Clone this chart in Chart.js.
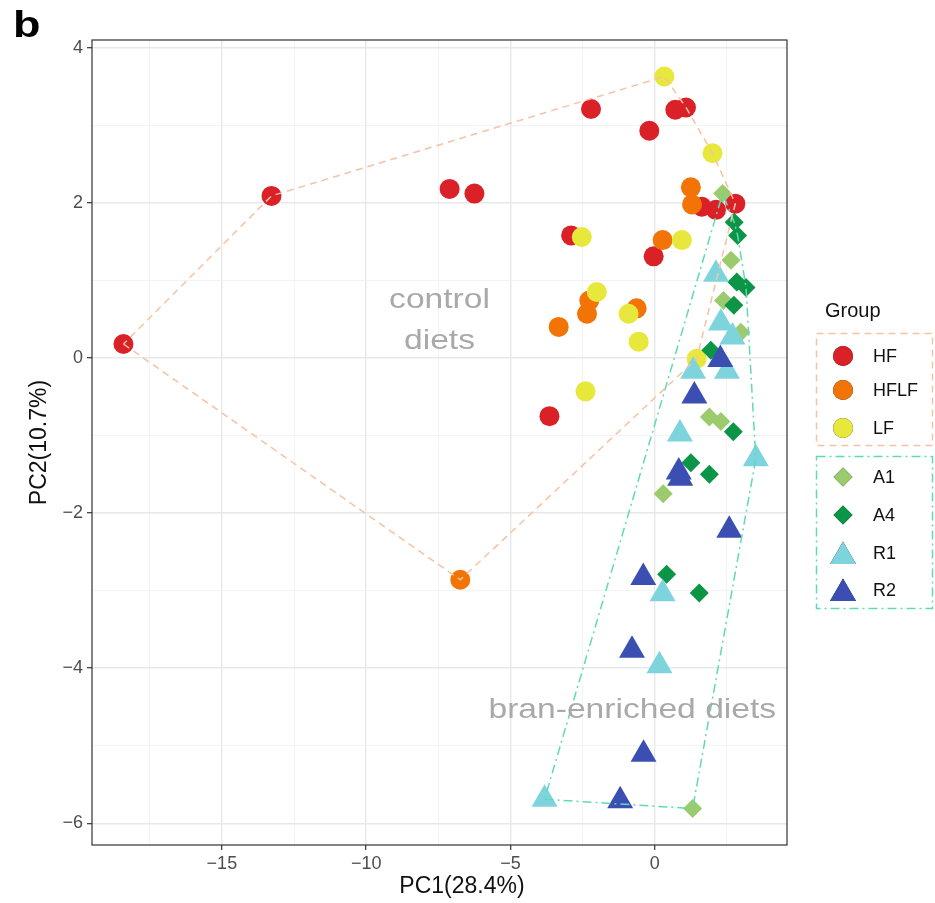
<!DOCTYPE html>
<html>
<head>
<meta charset="utf-8">
<script src="https://cdn.jsdelivr.net/npm/chart.js@4.4.1/dist/chart.umd.min.js"></script>
<style>
  html, body { margin: 0; padding: 0; background: #ffffff; }
  canvas { display: block; }
</style>
</head>
<body>
<canvas id="pca" width="935" height="903"></canvas>
<script>
// PCA scores per diet group: PC1 (x) and PC2 (y)
const hfX   = [-18.41, -13.28, -7.11, -6.25, -2.21, 0.71, 1.08, -0.19, 1.63, 2.12, 2.79, -2.90, -0.04, -3.65];
const hfY   = [  0.18,   2.09,  2.18,  2.12,  3.21, 3.20, 3.23,  2.93, 1.95, 1.91, 1.99,  1.58,  1.31, -0.75];
const hflfX = [1.25, 1.29, 0.27, -2.27, -2.35, -0.63, -3.33, -6.74];
const hflfY = [2.20, 1.98, 1.52,  0.74,  0.57,  0.64,  0.40, -2.86];
const lfX   = [0.33, 2.00, -2.53, 0.94, -2.01, -0.91, -0.56,  1.45, -2.40];
const lfY   = [3.63, 2.64,  1.56, 1.52,  0.85,  0.57,  0.21, -0.01, -0.43];
const a1X   = [2.35, 2.64, 2.38, 2.98,  1.89,  2.29,  0.29,  1.31];
const a1Y   = [2.12, 1.26, 0.74, 0.33, -0.76, -0.82, -1.75, -5.81];
const a4X   = [2.75, 2.87, 2.84, 3.16, 2.74, 1.94,  2.72,  1.25,  1.89,  0.41,  1.54];
const a4Y   = [1.75, 1.58, 0.98, 0.91, 0.68, 0.10, -0.95, -1.35, -1.50, -2.79, -3.03];
const r1X   = [2.12, 2.29, 2.69,  1.33,  2.50,  0.87,  3.50,  0.27,  0.16, -3.82];
const r1Y   = [1.08, 0.45, 0.27, -0.17, -0.17, -0.98, -1.30, -3.04, -3.97, -5.69];
const r2X   = [ 2.27,  1.37,  0.83,  0.88,  2.58, -0.40, -0.79, -0.39, -1.20];
const r2Y   = [-0.02, -0.49, -1.47, -1.55, -2.22, -2.83, -3.77, -5.11, -5.71];

const groupNames = ['HF', 'HFLF', 'LF', 'A1', 'A4', 'R1', 'R2'];

// Axis ticks
const xMajorTicks = [-15, -10, -5, 0];
const xMinorTicks = [-17.5, -12.5, -7.5, -2.5, 2.5];
const yMajorTicks = [-6, -4, -2, 0, 2, 4];
const yMinorTicks = [-5, -3, -1, 1, 3];

// Styling for each group
const groupStyle = {
  HF:   { color: '#DB2128', shape: 'circle',   r: 10 },
  HFLF: { color: '#F27406', shape: 'circle',   r: 10 },
  LF:   { color: '#E8E73B', shape: 'circle',   r: 10 },
  A1:   { color: '#9BCB6C', shape: 'rectRot',  r: 9.5 },
  A4:   { color: '#0C9447', shape: 'rectRot',  r: 9.5 },
  R1:   { color: '#7ED4DD', shape: 'triangle', r: 15 },
  R2:   { color: '#3B4FB3', shape: 'triangle', r: 15 }
};
const controlHullColor = '#F6C2A3';
const branHullColor = '#5FDAB5';

const zipPts = (xs, ys) => xs.map((x, i) => ({ x: x, y: ys[i] }));
const groupPoints = {
  HF: zipPts(hfX, hfY), HFLF: zipPts(hflfX, hflfY), LF: zipPts(lfX, lfY),
  A1: zipPts(a1X, a1Y), A4: zipPts(a4X, a4Y), R1: zipPts(r1X, r1Y), R2: zipPts(r2X, r2Y)
};

// Closed convex hull (monotone chain)
function convexHull(pts) {
  const p = pts.slice().sort((a, b) => a.x - b.x || a.y - b.y);
  const cross = (o, a, b) => (a.x - o.x) * (b.y - o.y) - (a.y - o.y) * (b.x - o.x);
  const lower = [];
  for (const q of p) {
    while (lower.length >= 2 && cross(lower[lower.length - 2], lower[lower.length - 1], q) <= 0) lower.pop();
    lower.push(q);
  }
  const upper = [];
  for (let i = p.length - 1; i >= 0; i--) {
    const q = p[i];
    while (upper.length >= 2 && cross(upper[upper.length - 2], upper[upper.length - 1], q) <= 0) upper.pop();
    upper.push(q);
  }
  upper.pop(); lower.pop();
  const hull = lower.concat(upper);
  hull.push(hull[0]);
  return hull;
}

const controlHull = convexHull([].concat(groupPoints.HF, groupPoints.HFLF, groupPoints.LF));
const branHull = convexHull([].concat(groupPoints.A1, groupPoints.A4, groupPoints.R1, groupPoints.R2));

const datasets = [
  {
    label: 'control hull', data: controlHull, showLine: true, pointRadius: 0,
    borderColor: controlHullColor, borderWidth: 1.5, borderDash: [7, 5],
    fill: false, tension: 0, order: 0
  },
  {
    label: 'bran hull', data: branHull, showLine: true, pointRadius: 0,
    borderColor: branHullColor, borderWidth: 1.5, borderDash: [9, 4, 2, 4],
    fill: false, tension: 0, order: 0
  }
];
groupNames.forEach((g, i) => {
  const s = groupStyle[g];
  datasets.push({
    label: g, data: groupPoints[g],
    pointStyle: s.shape, pointRadius: s.r, pointHoverRadius: s.r,
    backgroundColor: s.color, borderColor: s.color, borderWidth: 0,
    order: groupNames.length - i
  });
});

const FONT = "'Liberation Sans', Arial, Helvetica, sans-serif";
Chart.defaults.font.family = FONT;

const isIn = (arr, v) => arr.some(a => Math.abs(a - v) < 1e-9);

// Draws a label stretched horizontally around its centre
function wideText(ctx, text, x, y, stretch) {
  ctx.save();
  ctx.translate(x, y);
  ctx.scale(stretch, 1);
  ctx.fillText(text, 0, 0);
  ctx.restore();
}

// Panel border, axis title, annotations, panel letter and grouped legend
const decorPlugin = {
  id: 'decor',
  beforeDatasetsDraw(chart) {
    const { ctx, chartArea: a } = chart;
    ctx.save();
    ctx.strokeStyle = '#333333';
    ctx.lineWidth = 1.2;
    ctx.strokeRect(a.left, a.top, a.right - a.left, a.bottom - a.top);
    ctx.restore();
  },
  afterDraw(chart) {
    const { ctx } = chart;
    const xs = chart.scales.x, ys = chart.scales.y;
    ctx.save();

    // Group annotations inside the panel
    ctx.fillStyle = '#A9A9A9';
    ctx.font = '28px ' + FONT;
    ctx.textAlign = 'center';
    ctx.textBaseline = 'alphabetic';
    wideText(ctx, 'control', xs.getPixelForValue(-7.46), ys.getPixelForValue(0.64), 1.2);
    wideText(ctx, 'diets', xs.getPixelForValue(-7.46), ys.getPixelForValue(0.11), 1.2);
    wideText(ctx, 'bran-enriched diets', xs.getPixelForValue(-0.78), ys.getPixelForValue(-4.64), 1.2);

    // x-axis title
    ctx.fillStyle = '#111111';
    ctx.font = '23px ' + FONT;
    ctx.textBaseline = 'middle';
    ctx.fillText('PC1(28.4%)', 462, 887);

    // Panel letter
    ctx.save();
    ctx.translate(13, 37);
    ctx.scale(1.25, 1);
    ctx.font = 'bold 36px ' + FONT;
    ctx.textAlign = 'left';
    ctx.textBaseline = 'alphabetic';
    ctx.fillStyle = '#000000';
    ctx.fillText('b', 0, 0);
    ctx.restore();

    // Legend
    ctx.textAlign = 'left';
    ctx.textBaseline = 'middle';
    ctx.fillStyle = '#111111';
    ctx.font = '20px ' + FONT;
    ctx.fillText('Group', 825, 311);

    ctx.lineWidth = 1.5;
    ctx.strokeStyle = controlHullColor;
    ctx.setLineDash([7, 5]);
    ctx.strokeRect(816.5, 333.5, 116, 112);
    ctx.strokeStyle = branHullColor;
    ctx.setLineDash([9, 4, 2, 4]);
    ctx.strokeRect(816.5, 456.5, 116, 152);
    ctx.setLineDash([]);

    const rows = [356, 390, 428, 477, 515, 553, 590];
    ctx.font = '18px ' + FONT;
    groupNames.forEach((g, i) => {
      const s = groupStyle[g];
      const cy = rows[i] + (s.shape === 'triangle' ? 3.5 : 0);
      Chart.helpers.drawPoint(ctx, {
        pointStyle: s.shape, radius: s.r, borderWidth: 0, rotation: 0
      }, 843, cy);
      ctx.fillStyle = s.color;
      ctx.fill();
      ctx.fillStyle = '#111111';
      ctx.fillText(g, 873, rows[i] + 1);
    });
    ctx.restore();
  }
};

new Chart(document.getElementById('pca'), {
  type: 'scatter',
  data: { datasets: datasets },
  options: {
    responsive: false,
    animation: false,
    events: [],
    layout: { padding: { left: 0, right: 148, top: 40, bottom: 0 } },
    plugins: { legend: { display: false }, tooltip: { enabled: false } },
    scales: {
      x: {
        type: 'linear', min: -19.5, max: 4.58,
        afterBuildTicks: s => { s.ticks = xMinorTicks.concat(xMajorTicks).sort((a, b) => a - b).map(v => ({ value: v })); },
        afterFit: s => { s.height = 58; },
        border: { display: false },
        grid: {
          color: c => isIn(xMajorTicks, c.tick.value) ? '#E8E8E8' : '#F2F2F2',
          lineWidth: c => isIn(xMajorTicks, c.tick.value) ? 1.4 : 0.9,
          tickLength: 5,
          tickColor: c => isIn(xMajorTicks, c.tick.value) ? '#333333' : 'rgba(0,0,0,0)',
          tickWidth: 1.2
        },
        ticks: {
          autoSkip: false, maxRotation: 0, padding: 3,
          color: '#4D4D4D', font: { size: 18 },
          callback: v => isIn(xMajorTicks, v) ? (v < 0 ? '\u2212' + Math.abs(v) : String(v)) : ''
        }
      },
      y: {
        type: 'linear', min: -6.28, max: 4.10,
        afterBuildTicks: s => { s.ticks = yMinorTicks.concat(yMajorTicks).sort((a, b) => a - b).map(v => ({ value: v })); },
        afterFit: s => { s.width = 92; },
        border: { display: false },
        grid: {
          color: c => isIn(yMajorTicks, c.tick.value) ? '#E8E8E8' : '#F2F2F2',
          lineWidth: c => isIn(yMajorTicks, c.tick.value) ? 1.4 : 0.9,
          tickLength: 5,
          tickColor: c => isIn(yMajorTicks, c.tick.value) ? '#333333' : 'rgba(0,0,0,0)',
          tickWidth: 1.2
        },
        ticks: {
          autoSkip: false, padding: 4,
          color: '#4D4D4D', font: { size: 18 },
          callback: v => isIn(yMajorTicks, v) ? (v < 0 ? '\u2212' + Math.abs(v) : String(v)) : ''
        },
        title: {
          display: true, text: 'PC2(10.7%)', color: '#111111',
          font: { size: 23 }, padding: { top: 26, bottom: 0 }
        }
      }
    }
  },
  plugins: [decorPlugin]
});
</script>
</body>
</html>
